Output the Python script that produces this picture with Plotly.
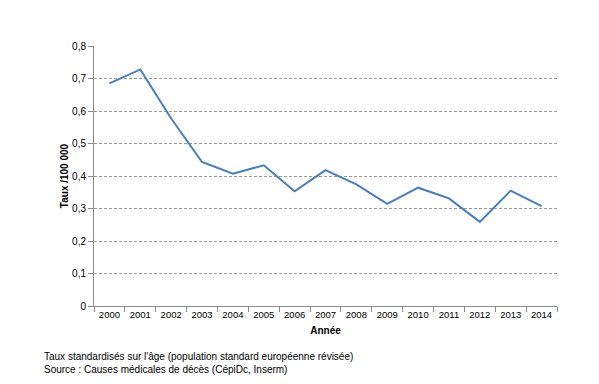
import plotly.graph_objects as go

years = [str(y) for y in range(2000, 2015)]
rates = [0.685, 0.728, 0.577, 0.443, 0.407, 0.433, 0.353, 0.418, 0.374, 0.314, 0.364, 0.331, 0.259, 0.355, 0.307]
y_ticks = [0, 0.1, 0.2, 0.3, 0.4, 0.5, 0.6, 0.7, 0.8]
y_labels = ["0", "0,1", "0,2", "0,3", "0,4", "0,5", "0,6", "0,7", "0,8"]

font = "Liberation Sans, Arial, sans-serif"

fig = go.Figure()
fig.add_trace(go.Scatter(x=years, y=rates, mode="lines",
                         line=dict(color="#4a7ebb", width=2)))

fig.update_layout(
    width=599, height=384,
    margin=dict(l=94, r=42, t=46, b=78),
    paper_bgcolor="white", plot_bgcolor="white",
    showlegend=False,
    font=dict(family=font, size=10, color="#000000"),
)
fig.update_xaxes(
    type="category", range=[-0.5, 14.5], automargin=False,
    showline=True, linecolor="#8c8c8c", linewidth=1,
    ticks="outside", tickson="boundaries", ticklen=5, tickcolor="#8c8c8c",
    showgrid=False, tickangle=0, tickfont=dict(size=9.5, family=font),
    title=dict(text="<b>Année</b>", font=dict(size=10, family=font), standoff=7),
)
fig.update_yaxes(
    range=[0, 0.8], tickvals=y_ticks, ticktext=y_labels, automargin=False,
    showline=True, linecolor="#8c8c8c", linewidth=1,
    ticks="outside", ticklen=5, tickcolor="#8c8c8c",
    showgrid=True, gridcolor="#9a9a9a", griddash="3px,2px", gridwidth=1,
    zeroline=False, tickfont=dict(size=10, family=font),
    title=dict(text="<b>Taux /100 000</b>", font=dict(size=10, family=font), standoff=1),
)
fig.add_annotation(
    text="Taux standardisés sur l'âge (population standard européenne révisée)<br>Source : Causes médicales de décès (CépiDc, Inserm)",
    xref="paper", yref="paper", x=-0.112, y=-0.165, xanchor="left", yanchor="top",
    showarrow=False, align="left", font=dict(size=10, family=font),
)
fig.write_html("out.html", config={"displayModeBar": False},
               post_script="document.body.style.margin='0';")
